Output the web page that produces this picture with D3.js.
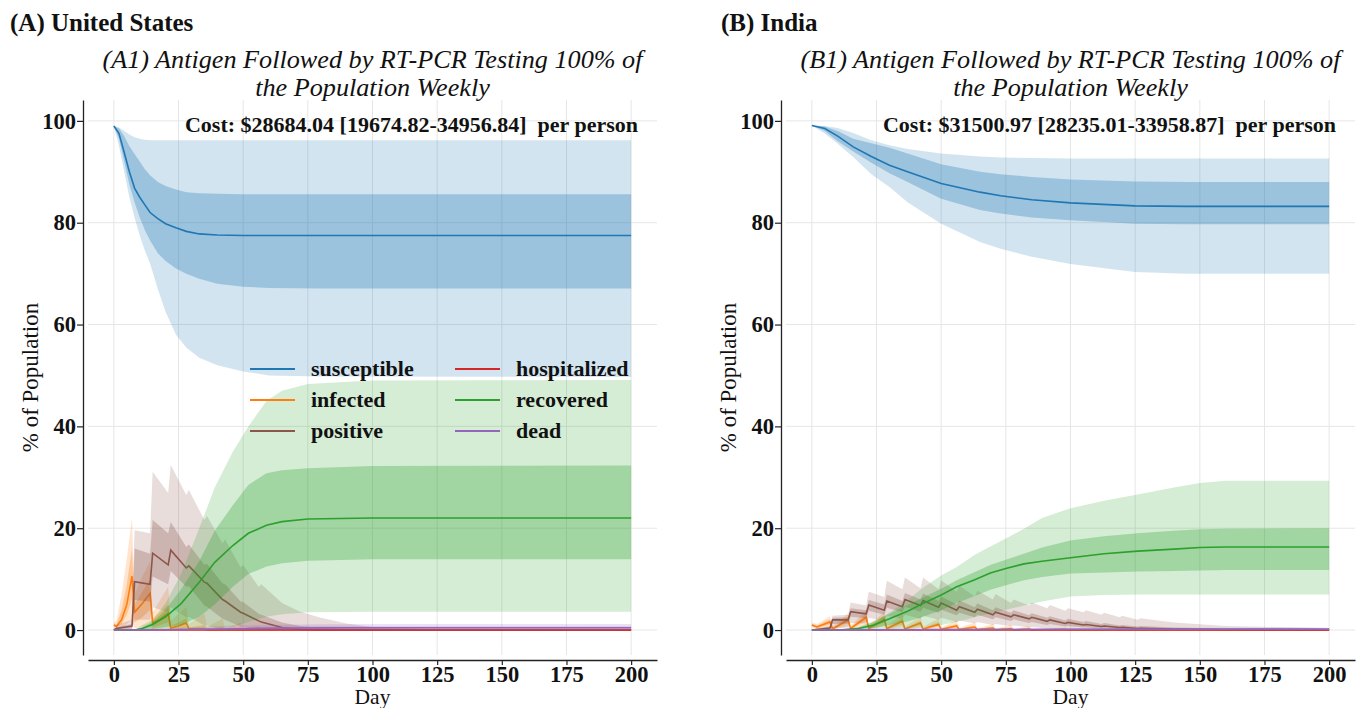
<!DOCTYPE html>
<html>
<head>
<meta charset="utf-8">
<script src="https://cdn.jsdelivr.net/npm/d3@7"></script>
<style>
  body { margin: 0; background: #fff; }
  svg text { font-family: "Liberation Serif", "Times New Roman", serif; fill: #111; }
</style>
</head>
<body>
<script>
// each row: day, median, 25th pct, 75th pct, 5th pct, 95th pct  (% of population)
var usSusceptible = [
  [0,99,99,99,99,99],[2,97.5,96.5,98.5,95,98.7],[4,93.8,92,97,90,98],[6,90,87.5,95,85,97.3],
  [8,86.8,84,93.5,81,96.8],[10,85,81,92,77.5,96.5],[12,83.5,78.5,90.5,74.5,96.3],[14,82,76.5,89.3,72,96.2],
  [17,80.8,74,88,67,96.2],[20,79.8,72.5,87.2,62.5,96.2],[24,79,71,86.5,58,96.2],[28,78.3,70,86,55.5,96.2],
  [33,77.8,69,85.8,53.5,96.2],[40,77.6,68,85.7,52,96.2],[50,77.5,67.4,85.6,50.8,96.2],[60,77.5,67.2,85.6,50,96.2],
  [80,77.5,67.1,85.6,49.8,96.2],[200,77.5,67.1,85.6,49.7,96.2]
];
var usInfected = [
  [0,1.0,0.8,1.2,0.5,1.5],[1,0.7,0.5,1.1,0.3,1.8],[3,2.0,1.2,4.0,0.5,7.0],[5,5.0,3.0,9.0,1.2,14.0],
  [7,10.6,6.0,16.0,2.0,22.0],[8,3.5,1.5,5.0,0.3,7.0],[11,5.2,2.5,7.5,0.6,10.5],[14,7.2,4.0,10.0,1.0,13.5],
  [15,1.4,0.5,2.2,0,3.5],[18,2.2,1.0,3.6,0.2,6.0],[21,3.3,1.5,5.0,0.3,8.5],[22,0.4,0,0.8,0,1.8],
  [25,0.8,0.1,1.5,0,3.2],[28,1.4,0.3,2.3,0,4.5],[29,0.3,0,0.5,0,1.2],[35,0.2,0,1.0,0,3.3],
  [36,0,0,0.2,0,0.6],[42,0,0,0.6,0,2.2],[43,0,0,0.1,0,0.3],[49,0,0,0.3,0,1.5],[50,0,0,0,0,0.2],
  [56,0,0,0.1,0,0.8],[57,0,0,0,0,0],[200,0,0,0,0,0]
];
var usPositive = [
  [0,0,0,0.1,0,0.3],[1,0.3,0.1,0.5,0,1.0],[7,0.8,0.3,1.2,0,2.0],[8,9.5,5.9,16.0,2.0,19.6],
  [14,9.0,5.6,15.0,2.0,19.0],[15,15.1,10.5,21.6,4.5,31.1],[21,12.8,9.0,19.0,3.5,26.9],[22,15.7,11.6,21.2,4.5,32.4],
  [28,12.2,8.5,16.3,2.5,26.5],[29,12.6,8.6,16.8,2.6,27.5],[35,9.4,4.8,12.8,0.9,21.6],[36,9.2,4.6,13.0,0.9,22.4],
  [42,6.0,2.2,9.2,0,17.0],[43,5.7,2.0,9.0,0,17.8],[49,3.5,0.7,5.6,0,12.3],[50,3.3,0.6,5.5,0,12.8],
  [56,1.8,0.1,3.2,0,8.5],[57,1.6,0.1,3.0,0,9.0],[65,0.5,0,1.5,0,5.3],[72,0.1,0,0.8,0,3.6],
  [80,0,0,0.4,0,2.4],[90,0,0,0.1,0,1.3],[100,0,0,0,0,0.6],[120,0,0,0,0,0.3],[200,0,0,0,0,0.2]
];
var usHospitalized = [[0,0,0,0,0,0],[200,0,0,0,0,0.1]];
var usRecovered = [
  [0,0,0,0,0,0],[8,0,0,0,0,0],[11,0.3,0,0.6,0,1.0],[15,1.1,0.2,1.6,0,2.0],[20,2.6,0.6,4.0,0,5.3],
  [26,5.2,1.0,8.0,0,11],[33,9.4,2.6,13.5,0,20],[39,13.3,5.0,19.5,0.3,28],[46,16.6,8.5,24.5,0.6,35],
  [52,19.0,11.0,28.5,1.6,40],[59,20.6,12.5,30.8,2.6,45],[65,21.3,13.1,31.4,3.1,47],[75,21.8,13.6,31.8,3.5,48.3],
  [100,22.0,13.9,32.2,3.6,49],[200,22.0,13.9,32.3,3.6,49.1]
];
var usDead = [
  [0,0,0,0,0,0],[20,0.05,0,0.15,0,0.3],[40,0.2,0.05,0.4,0,0.8],[60,0.35,0.1,0.6,0,1.0],
  [80,0.42,0.15,0.7,0,1.15],[120,0.45,0.15,0.72,0,1.2],[200,0.45,0.15,0.72,0,1.2]
];

var inSusceptible = [
  [0,99.1,99.1,99.1,99.1,99.1],[5,98.5,98,98.9,97.5,99],[10,97,96,98,95.5,98.6],[16,94.9,94,96.5,92.9,97.6],
  [23,93,91.8,95.6,89.5,96.2],[30,91.3,89.7,94.7,87,95.2],[37,90,88,93.6,84,94.5],[50,87.7,84.7,91.5,79.8,93.6],
  [65,86,82.5,90,76.2,93],[73,85.3,81.8,89.5,74.9,92.8],[85,84.5,81,89,73.3,92.7],[100,83.9,80.5,88.5,71.9,92.6],
  [125,83.3,79.8,88.1,70.3,92.6],[145,83.2,79.7,88,70,92.6],[200,83.2,79.7,88,70,92.6]
];
var inInfected = [
  [0,1.0,0.8,1.2,0.5,1.5],[2,0.6,0.4,0.9,0.2,1.2],[7,1.6,1.1,2.1,0.6,2.7],[8,0.2,0.1,0.4,0,0.6],
  [14,2.0,1.4,2.6,0.8,3.3],[15,0.3,0.1,0.5,0,0.8],[21,2.5,1.8,3.2,1.0,4.0],[22,0.3,0.1,0.6,0,0.9],
  [28,2.1,1.5,2.8,0.8,3.6],[29,0.3,0.1,0.5,0,0.8],[35,1.7,1.1,2.3,0.6,3.2],[36,0.2,0.1,0.4,0,0.7],
  [42,1.4,0.9,1.9,0.4,2.7],[43,0.2,0,0.4,0,0.6],[49,1.1,0.7,1.6,0.3,2.3],[50,0.15,0,0.3,0,0.5],
  [56,0.8,0.5,1.2,0.2,1.9],[57,0.1,0,0.3,0,0.4],[63,0.6,0.3,0.9,0.1,1.5],[64,0.1,0,0.2,0,0.3],
  [70,0.4,0.2,0.7,0,1.2],[71,0.05,0,0.15,0,0.3],[77,0.3,0.1,0.5,0,1.0],[78,0,0,0.1,0,0.2],
  [84,0.2,0.05,0.35,0,0.8],[85,0,0,0.1,0,0.2],[98,0.1,0,0.2,0,0.5],[99,0,0,0.05,0,0.1],[200,0,0,0,0,0]
];
var inPositive = [
  [0,0,0,0.1,0,0.2],[7,0.4,0.2,0.6,0,0.8],[8,2.0,1.2,2.4,0.4,2.8],[14,2.0,1.3,2.5,0.5,3.0],
  [15,3.6,2.6,4.3,1.4,5.4],[21,3.2,2.3,3.9,1.3,4.8],[22,4.9,3.8,5.9,2.4,7.5],[28,3.9,3.0,5.0,1.8,6.5],
  [29,5.7,4.4,7.0,2.8,9.7],[35,4.6,3.5,5.7,2.2,8.0],[36,6.0,4.6,7.3,3.0,10.3],[42,4.8,3.6,6.0,2.2,8.2],
  [43,5.8,4.4,7.2,2.8,10.3],[49,4.5,3.4,5.7,2.0,8.0],[50,5.3,4.0,6.6,2.4,9.8],[56,3.9,2.9,5.0,1.6,7.5],
  [57,4.6,3.4,5.8,1.9,8.7],[63,3.5,2.5,4.5,1.3,6.6],[64,4.1,3.0,5.2,1.6,7.7],[70,3.0,2.1,3.9,1.0,6.0],
  [71,3.5,2.5,4.5,1.2,7.1],[77,2.6,1.8,3.4,0.8,5.3],[78,3.0,2.1,3.9,0.9,6.0],[84,2.2,1.4,2.9,0.5,4.8],
  [85,2.5,1.6,3.3,0.6,5.4],[91,1.7,1.0,2.4,0.3,4.3],[92,2.0,1.2,2.7,0.3,4.9],[98,1.3,0.7,1.9,0.1,3.8],
  [99,1.5,0.8,2.2,0.1,4.3],[105,1.0,0.5,1.6,0,3.5],[106,1.1,0.5,1.8,0,3.9],[112,0.7,0.3,1.2,0,3.0],
  [113,0.8,0.3,1.4,0,3.4],[119,0.5,0.2,0.9,0,2.5],[120,0.55,0.2,1.0,0,2.8],[126,0.3,0.1,0.7,0,2.0],
  [127,0.35,0.1,0.8,0,2.3],[140,0.2,0,0.5,0,1.5],[160,0.1,0,0.3,0,0.8],[200,0.05,0,0.2,0,0.4]
];
var inHospitalized = [[0,0,0,0,0,0],[200,0,0,0,0,0.05]];
var inRecovered = [
  [0,0,0,0,0,0],[10,0,0,0,0,0],[18,0.3,0.1,0.5,0,0.6],[24,1.0,0.4,1.6,0,1.8],[30,2.2,1.0,3.2,0,3.4],
  [37,3.7,1.7,4.9,0.2,5.9],[43,5.2,2.6,6.4,0.5,8.3],[50,6.9,3.9,8.1,1.0,10.7],[56,8.5,5.3,9.8,1.6,12.4],
  [63,9.9,6.7,11.4,2.5,14.8],[69,11.2,7.9,12.8,3.3,16.4],[75,12.1,8.8,13.8,4.0,18.0],[82,13.0,9.8,15.0,4.8,19.9],
  [89,13.5,10.4,16.2,5.6,22.0],[100,14.2,11.1,17.6,6.6,23.9],[113,15.0,11.3,18.4,6.9,25.4],[126,15.5,11.5,19.0,7.0,26.6],
  [140,15.9,11.6,19.5,7.0,28.0],[150,16.2,11.7,19.8,7.0,28.9],[160,16.3,11.8,19.9,7.0,29.3],[200,16.3,11.8,20.0,7.0,29.3]
];
var inDead = [[0,0,0,0,0,0],[50,0.08,0,0.15,0,0.25],[100,0.15,0.05,0.25,0,0.4],[200,0.18,0.05,0.28,0,0.45]];

var compartments = ["susceptible", "infected", "positive", "hospitalized", "recovered", "dead"];
var colors = ["#1f77b4", "#ff7f0e", "#8c564b", "#d62728", "#2ca02c", "#9467bd"];
var dayTicks = [0, 25, 50, 75, 100, 125, 150, 175, 200];
var pctTicks = [0, 20, 40, 60, 80, 100];

var panels = [
  { title: "(A) United States", sub: ["(A1) Antigen Followed by RT-PCR Testing 100% of", "the Population Weekly"],
    cost: "Cost: $28684.04 [19674.82-34956.84]  per person",
    series: [usSusceptible, usInfected, usPositive, usHospitalized, usRecovered, usDead],
    left: 88, right: 657, titleX: 10, legend: true },
  { title: "(B) India", sub: ["(B1) Antigen Followed by RT-PCR Testing 100% of", "the Population Weekly"],
    cost: "Cost: $31500.97 [28235.01-33958.87]  per person",
    series: [inSusceptible, inInfected, inPositive, inHospitalized, inRecovered, inDead],
    left: 786, right: 1355, titleX: 721, legend: false }
];

var W = 1364, H = 708, plotTop = 100, plotBottom = 655;

var svg = d3.select("body").append("svg").attr("width", W).attr("height", H);

panels.forEach(function(p) {
  var x = d3.scaleLinear().domain([-10, 210]).range([p.left, p.right]);
  var y = d3.scaleLinear().domain([-4.9, 104.1]).range([plotBottom, plotTop]);
  var g = svg.append("g");

  // grid
  g.selectAll("line.gx").data(dayTicks).enter().append("line")
    .attr("x1", d => x(d)).attr("x2", d => x(d)).attr("y1", plotTop).attr("y2", plotBottom)
    .attr("stroke", "#e6e6e6").attr("stroke-width", 1);
  g.selectAll("line.gy").data(pctTicks).enter().append("line")
    .attr("x1", p.left).attr("x2", p.right).attr("y1", d => y(d)).attr("y2", d => y(d))
    .attr("stroke", "#e6e6e6").attr("stroke-width", 1);

  // bands and medians
  p.series.forEach(function(rows, i) {
    var outer = d3.area().x(d => x(d[0])).y0(d => y(d[4])).y1(d => y(d[5]));
    var inner = d3.area().x(d => x(d[0])).y0(d => y(d[2])).y1(d => y(d[3]));
    var med = d3.line().x(d => x(d[0])).y(d => y(d[1]));
    g.append("path").attr("d", outer(rows)).attr("fill", colors[i]).attr("fill-opacity", 0.2);
    g.append("path").attr("d", inner(rows)).attr("fill", colors[i]).attr("fill-opacity", 0.3);
    g.append("path").attr("d", med(rows)).attr("fill", "none")
      .attr("stroke", colors[i]).attr("stroke-width", 1.6);
  });

  // axes (offset from the plot area)
  var ax = g.append("g").attr("transform", "translate(0," + (plotBottom + 5) + ")")
    .call(d3.axisBottom(x).tickValues(dayTicks).tickSize(5).tickSizeOuter(0).tickPadding(1));
  var ay = g.append("g").attr("transform", "translate(" + (p.left - 5) + ",0)")
    .call(d3.axisLeft(y).tickValues(pctTicks).tickSize(6).tickSizeOuter(0).tickPadding(1));
  [ax, ay].forEach(function(a) {
    a.select(".domain").attr("stroke", "#222").attr("stroke-width", 1.3);
    a.selectAll(".tick line").attr("stroke", "#222").attr("stroke-width", 1.2);
    a.selectAll(".tick text").attr("font-size", 22.5).attr("font-weight", "bold")
      .attr("font-family", "Liberation Serif").attr("fill", "#111");
  });

  g.append("text").attr("x", (p.left + p.right) / 2).attr("y", 704)
    .attr("text-anchor", "middle").attr("font-size", 21.5).text("Day");
  g.append("text").attr("transform", "translate(" + (p.left - 50) + "," + ((plotTop + plotBottom) / 2) + ") rotate(-90)")
    .attr("text-anchor", "middle").attr("font-size", 23).text("% of Population");

  // titles
  g.append("text").attr("x", p.titleX).attr("y", 31).attr("font-size", 25)
    .attr("font-weight", "bold").text(p.title);
  p.sub.forEach(function(s, k) {
    g.append("text").attr("x", (p.left + p.right) / 2).attr("y", 68 + k * 28)
      .attr("text-anchor", "middle").attr("font-size", 26.2).attr("font-style", "italic").text(s);
  });
  g.append("text").attr("x", p.right - 19).attr("y", 132).attr("text-anchor", "end")
    .attr("font-size", 22).attr("font-weight", "bold")
    .style("white-space", "pre").text(p.cost);

  if (p.legend) {
    var lg = g.append("g").selectAll("g").data(compartments).enter().append("g")
      .attr("transform", (d, i) => "translate(" + (250 + Math.floor(i / 3) * 205) + "," + (369 + (i % 3) * 31) + ")");
    lg.append("line").attr("x1", 0).attr("x2", 45).attr("stroke", (d, i) => colors[i]).attr("stroke-width", 2);
    lg.append("text").attr("x", 61).attr("dy", "0.33em").attr("font-size", 22)
      .attr("font-weight", "bold").text(d => d);
  }
});
</script>
</body>
</html>
